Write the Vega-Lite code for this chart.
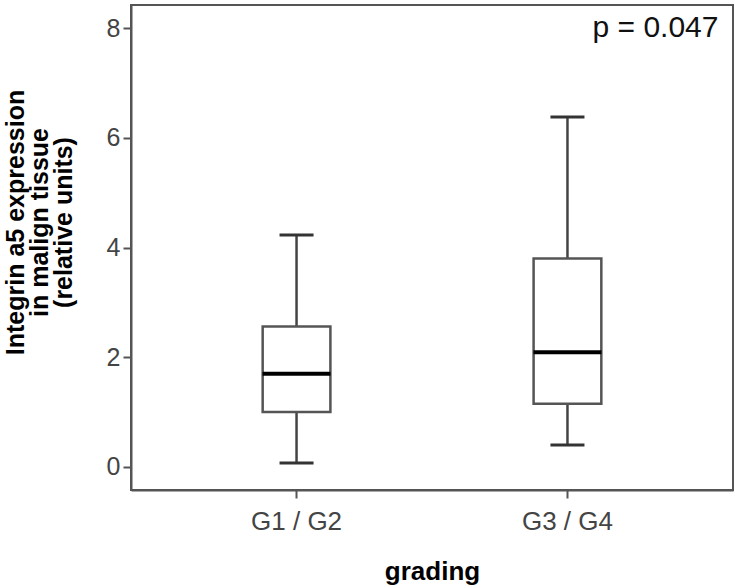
{
  "$schema": "https://vega.github.io/schema/vega-lite/v6.json",
  "width": 602,
  "height": 485,
  "autosize": {"type": "none"},
  "padding": {"left": 131, "top": 5, "right": 2, "bottom": 98},
  "background": "white",
  "config": {
    "view": {"stroke": "#555", "strokeWidth": 2},
    "font": "Liberation Sans"
  },
  "data": {
    "values": [
      {"grading": "G1 / G2", "lower": 0.07, "q1": 1.0, "median": 1.7, "q3": 2.56, "upper": 4.23},
      {"grading": "G3 / G4", "lower": 0.4, "q1": 1.15, "median": 2.09, "q3": 3.8, "upper": 6.38}
    ]
  },
  "encoding": {
    "x": {
      "field": "grading",
      "type": "nominal",
      "sort": null,
      "scale": {"paddingInner": 0.75, "paddingOuter": 0.486},
      "title": "grading",
      "axis": {
        "labelAngle": 0,
        "labelFontSize": 26,
        "labelColor": "#444",
        "tickColor": "#555",
        "tickSize": 8,
        "tickWidth": 2,
        "domainColor": "#555",
        "domainWidth": 2,
        "labelPadding": 10,
        "titleFontSize": 26,
        "titleFontWeight": "bold",
        "titleColor": "#000",
        "titlePadding": 24
      }
    }
  },
  "layer": [
    {
      "mark": {"type": "rule", "stroke": "#444", "strokeWidth": 2.5},
      "encoding": {
        "y": {
          "field": "lower",
          "type": "quantitative",
          "scale": {"domain": [-0.42, 8.42], "nice": false, "zero": false},
          "title": ["Integrin a5 expression", "in malign tissue", "(relative units)"],
          "axis": {
            "values": [0, 2, 4, 6, 8],
            "format": "d",
            "grid": false,
            "tickSize": 8,
            "tickWidth": 2,
            "tickColor": "#555",
            "domainColor": "#555",
            "domainWidth": 2,
            "labelFontSize": 25,
            "labelColor": "#444",
            "labelPadding": 3,
            "titleFontSize": 25,
            "titleFontWeight": "bold",
            "titleColor": "#000",
            "titleLineHeight": 24,
            "titlePadding": 30,
            "titleY": 217
          }
        },
        "y2": {"field": "q1"}
      }
    },
    {
      "mark": {"type": "rule", "stroke": "#444", "strokeWidth": 2.5},
      "encoding": {
        "y": {"field": "q3", "type": "quantitative"},
        "y2": {"field": "upper"}
      }
    },
    {
      "mark": {"type": "bar", "fill": "white", "stroke": "#555", "strokeWidth": 2.5},
      "encoding": {
        "y": {"field": "q1", "type": "quantitative"},
        "y2": {"field": "q3"}
      }
    },
    {
      "mark": {"type": "tick", "color": "#000", "size": 68, "thickness": 4, "orient": "horizontal", "opacity": 1},
      "encoding": {
        "y": {"field": "median", "type": "quantitative"}
      }
    },
    {
      "mark": {"type": "tick", "color": "#333", "size": 34, "thickness": 3, "orient": "horizontal", "opacity": 1},
      "encoding": {
        "y": {"field": "lower", "type": "quantitative"}
      }
    },
    {
      "mark": {"type": "tick", "color": "#333", "size": 34, "thickness": 3, "orient": "horizontal", "opacity": 1},
      "encoding": {
        "y": {"field": "upper", "type": "quantitative"}
      }
    },
    {
      "data": {"values": [{"label": "p = 0.047"}]},
      "mark": {"type": "text", "align": "right", "baseline": "middle", "fontSize": 30, "dx": 151, "color": "#111"},
      "encoding": {
        "x": {"datum": "G3 / G4"},
        "y": {"datum": 8},
        "text": {"field": "label"}
      }
    }
  ]
}
